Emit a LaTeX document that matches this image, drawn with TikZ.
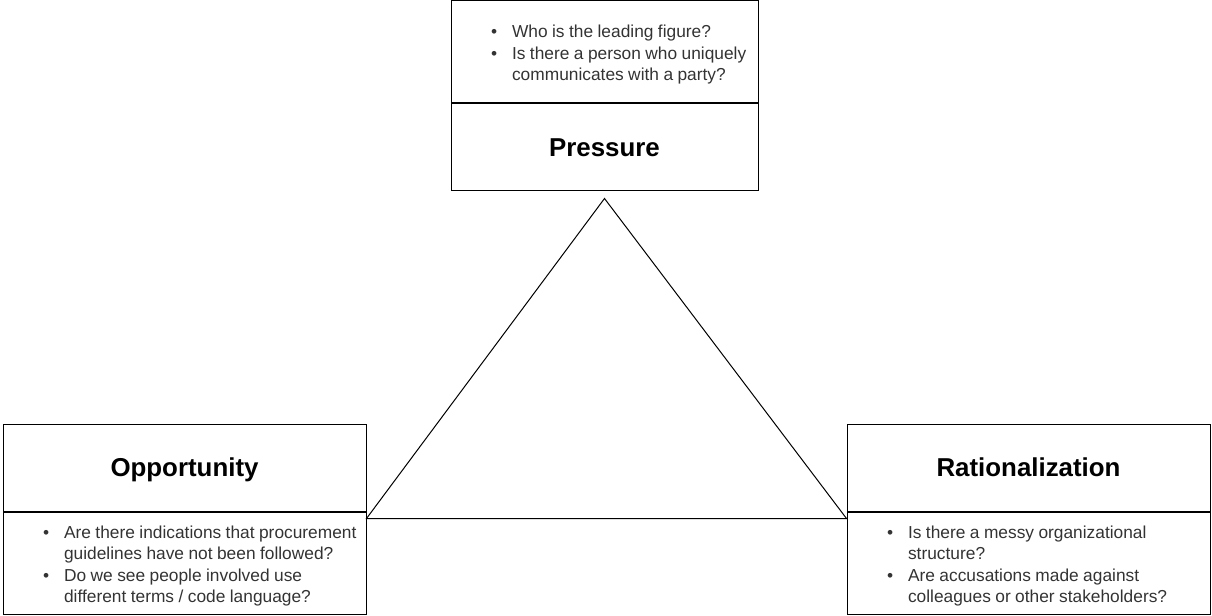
\documentclass[tikz,border=0pt]{standalone}
\usepackage{fontspec}
\setmainfont{Liberation Sans}
\usepackage{xcolor}
\definecolor{qgray}{HTML}{333333}
\usepackage{tikz}
\usetikzlibrary{positioning}
\newcommand{\qlist}[1]{{\fontsize{13}{16.1}\selectfont\color{qgray}%
    \begin{tabular}{@{\hspace{30pt}}l@{\hspace{11.25pt}}l@{}}\noalign{\vskip 4.5pt}#1\end{tabular}}}

\begin{document}
\begin{tikzpicture}[x=0.75pt, y=-0.75pt,
    titlebox/.style={draw, line width=0.75pt, minimum width=#1, minimum height=65.25pt,
        inner sep=0pt, text height=15.75pt, text depth=2.25pt,
        font=\fontsize{19.4}{23}\selectfont\bfseries},
    titlebox/.default=272.25pt,
    listbox/.style={draw, line width=0.75pt, text width=#1, minimum height=76.5pt,
        inner sep=0pt, align=left},
    listbox/.default=272.25pt]
    \useasboundingbox (0,0) rectangle (1212,616);

    \node [titlebox=230.25pt] (presT) at (604.5,147.5) {Pressure};
    \node [listbox=230.25pt, above=0pt of presT] (presL) {\qlist{%
        \textbullet & Who is the leading figure?\\
        \textbullet & Is there a person who uniquely\\
        & communicates with a party?}};

    \node [titlebox] (oppT) at (184.5,467.5) {Opportunity};
    \node [listbox, below=0pt of oppT] (oppL) {\qlist{%
        \textbullet & Are there indications that procurement\\
        & guidelines have not been followed?\\
        \textbullet & Do we see people involved use\\
        & different terms / code language?}};

    \node [titlebox] (ratT) at (1028.5,467.5) {Rationalization};
    \node [listbox, below=0pt of ratT] (ratL) {\qlist{%
        \textbullet & Is there a messy organizational\\
        & structure?\\
        \textbullet & Are accusations made against\\
        & colleagues or other stakeholders?}};

    \coordinate (apex) at ([yshift=-5.25pt]presT.south);
    \coordinate (lc) at ([yshift=-5.25pt]oppT.south east);
    \coordinate (rc) at ([yshift=-5.25pt]ratT.south west);
    \draw [line width=0.75pt] (apex) -- (lc) -- (rc) -- cycle;
\end{tikzpicture}
\end{document}
